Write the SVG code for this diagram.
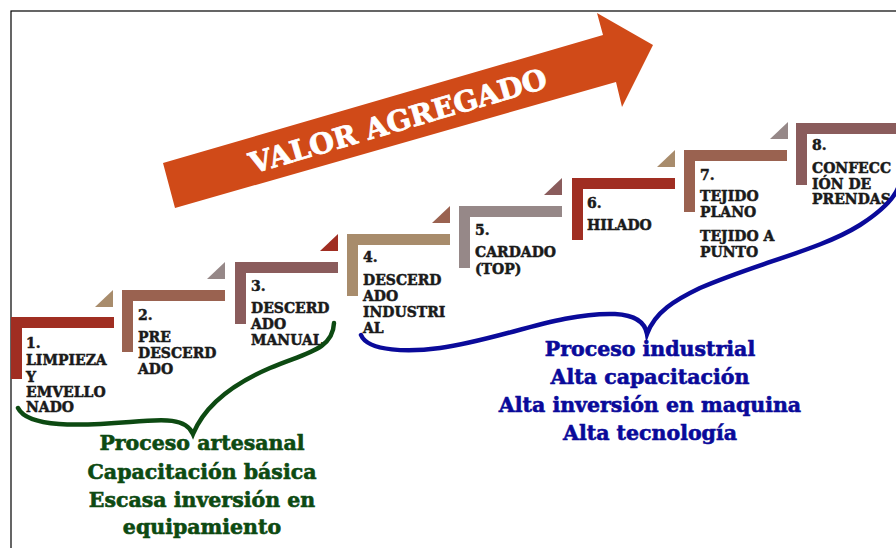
<svg xmlns="http://www.w3.org/2000/svg" width="896" height="548" viewBox="0 0 896 548">
<style>
.lbl{font-family:"DejaVu Serif","Liberation Serif",serif;font-weight:bold;font-size:14px;fill:#1a1a1a;stroke:#1a1a1a;stroke-width:0.5}
.big{font-family:"DejaVu Serif","Liberation Serif",serif;font-weight:bold;font-size:20.5px;text-anchor:middle;stroke-width:0.6}
.brace{fill:none;stroke-width:4.5;stroke-linecap:round;stroke-linejoin:miter}
.c-red{fill:#a02e22}.c-sie{fill:#9a6250}.c-mau{fill:#8a5c5c}.c-tan{fill:#a88c6c}.c-gry{fill:#968888}
</style>
<defs>
<path id="L" d="M0,0 H103 V11 H11 V62 H0 Z"/>
</defs>
<rect x="11" y="11" width="900" height="560" fill="#fff" stroke="#000" stroke-width="1.2"/>

<g id="arrow">
<polygon points="163,163 603,35 597,13 653,45 622,107 616,82 175,208" fill="#d04a18"/>
<text transform="translate(398,121) rotate(-16.3)" y="10" text-anchor="middle" font-family="'DejaVu Serif','Liberation Serif',serif" font-weight="bold" font-size="28.5" fill="#fff" stroke="#fff" stroke-width="0.8">VALOR AGREGADO</text>
</g>

<g id="step1">
<use href="#L" x="11" y="317" class="c-red"/>
<polygon points="113,290 113,307 95,307" class="c-tan"/>
<text class="lbl" x="26"><tspan y="348">1.</tspan><tspan x="26" y="365">LIMPIEZA</tspan><tspan x="26" y="382">Y</tspan><tspan x="26" y="397">EMVELLO</tspan><tspan x="26" y="412">NADO</tspan></text>
</g>
<g id="step2">
<use href="#L" x="122" y="290" class="c-sie"/>
<polygon points="225,262 225,279 207,279" class="c-gry"/>
<text class="lbl" x="138"><tspan y="320">2.</tspan><tspan x="138" y="342">PRE</tspan><tspan x="138" y="358">DESCERD</tspan><tspan x="138" y="374">ADO</tspan></text>
</g>
<g id="step3">
<use href="#L" x="235" y="262" class="c-mau"/>
<polygon points="338,234 338,251 320,251" class="c-red"/>
<text class="lbl" x="251"><tspan y="291">3.</tspan><tspan x="251" y="313">DESCERD</tspan><tspan x="251" y="329">ADO</tspan><tspan x="251" y="345">MANUAL</tspan></text>
</g>
<g id="step4">
<use href="#L" x="347" y="234" class="c-tan"/>
<polygon points="450,206 450,223 432,223" class="c-sie"/>
<text class="lbl" x="363"><tspan y="262">4.</tspan><tspan x="363" y="285">DESCERD</tspan><tspan x="363" y="301">ADO</tspan><tspan x="363" y="317">INDUSTRI</tspan><tspan x="363" y="333">AL</tspan></text>
</g>
<g id="step5">
<use href="#L" x="459" y="206" class="c-gry"/>
<polygon points="562,178 562,195 544,195" class="c-mau"/>
<text class="lbl" x="475"><tspan y="235">5.</tspan><tspan x="475" y="257">CARDADO</tspan><tspan x="475" y="274">(TOP)</tspan></text>
</g>
<g id="step6">
<use href="#L" x="572" y="178" class="c-red"/>
<polygon points="675,150 675,167 657,167" class="c-tan"/>
<text class="lbl" x="587"><tspan y="208">6.</tspan><tspan x="587" y="230">HILADO</tspan></text>
</g>
<g id="step7">
<use href="#L" x="684" y="150" class="c-sie"/>
<polygon points="788,122 788,139 770,139" class="c-gry"/>
<text class="lbl" x="700"><tspan y="180">7.</tspan><tspan x="700" y="201">TEJIDO</tspan><tspan x="700" y="217">PLANO</tspan><tspan x="700" y="241">TEJIDO A</tspan><tspan x="700" y="257">PUNTO</tspan></text>
</g>
<g id="step8">
<use href="#L" x="796" y="123" class="c-mau"/>
<rect x="896" y="123" width="10" height="11" class="c-mau"/>
<text class="lbl" x="812"><tspan y="150">8.</tspan><tspan x="812" y="173">CONFECC</tspan><tspan x="812" y="189">IÓN DE</tspan><tspan x="812" y="204">PRENDAS</tspan></text>
</g>

<g id="connectors">
<path class="brace" stroke="#0d4a12" d="M18,408 C28,428 80,426 130,422 C165,419 186,418 193,434 C205,405 235,383 270,368 C305,353 333,350 334,323"/>
<path class="brace" stroke="#0a0a9a" d="M361,335 C368,352 410,352 440,348 C500,340 560,312 615,314 C635,315 645,322 647,334 C655,312 675,300 700,288 C760,262 820,250 860,225 C880,212 893,200 898,188"/>
</g>

<g id="artesanal">
<text class="big" fill="#0d4a12" stroke="#0d4a12"><tspan x="202" y="450">Proceso artesanal</tspan><tspan x="202" y="479">Capacitación básica</tspan><tspan x="202" y="507">Escasa inversión en</tspan><tspan x="202" y="534">equipamiento</tspan></text>
</g>
<g id="industrial">
<text class="big" fill="#0a0a9a" stroke="#0a0a9a"><tspan x="650" y="356">Proceso industrial</tspan><tspan x="650" y="384">Alta capacitación</tspan><tspan x="650" y="412">Alta inversión en maquina</tspan><tspan x="650" y="440">Alta tecnología</tspan></text>
</g>
</svg>
